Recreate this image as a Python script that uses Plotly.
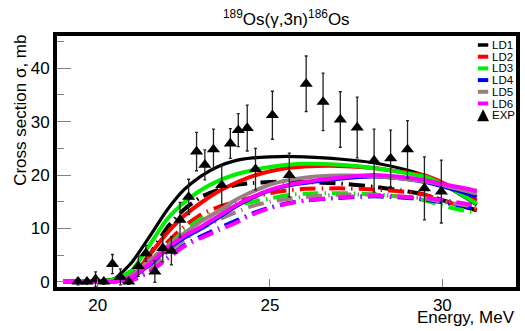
import plotly.graph_objects as go

# ---------------- data ----------------
E_GRID = [19, 19.5, 20, 20.5, 21, 21.5, 22, 22.5, 23, 23.5, 24, 24.5, 25, 25.5,
          26, 27, 28, 29, 29.5, 30, 30.5, 31]

LD1 = [0, 0, 0.1, 0.6, 3.7, 8.4, 13.3, 17.2, 19.8, 21.6, 22.7, 23.2, 23.4, 23.5,
       23.4, 23.0, 22.3, 20.9, 19.9, 18.3, 16.4, 14.4]
LD2 = [0, 0, 0, 0.1, 1.0, 5.0, 9.0, 12.3, 14.8, 16.9, 18.5, 19.8, 20.7, 21.3,
       21.6, 21.7, 21.3, 20.4, 19.9, 18.6, 17.0, 15.2]
LD3 = [0, 0, 0, 0.5, 2.2, 6.8, 11.6, 14.8, 17.2, 18.9, 20.1, 20.9, 21.5, 21.9,
       22.1, 21.9, 21.3, 20.3, 19.7, 18.3, 16.6, 14.6]
LD4 = [0, 0, 0, 0, 0.8, 3.2, 6.0, 8.2, 10.0, 12.0, 14.1, 15.8, 17.1, 18.0,
       18.5, 19.3, 19.7, 19.2, 18.7, 17.9, 17.0, 15.9]
LD5 = [0, 0, 0, 0, 1.3, 4.0, 6.5, 9.0, 11.3, 13.2, 15.3, 16.9, 18.2, 19.0,
       19.5, 19.9, 19.8, 19.2, 18.8, 18.1, 17.3, 16.5]
LD6 = [0, 0, 0, 0, 0.9, 3.3, 6.2, 8.5, 10.3, 12.3, 14.3, 15.9, 17.2, 18.1,
       18.7, 19.5, 20.0, 19.5, 19.0, 18.3, 17.7, 17.0]

LD1_ALT = [0, 0, 0, 0.3, 1.5, 5.0, 10.0, 13.5, 15.9, 17.2, 18.1, 18.5, 18.7, 18.8,
           18.7, 18.4, 17.8, 16.9, 16.3, 15.3, 14.3, 13.4]
LD2_ALT = [0, 0, 0, 0.1, 0.8, 3.5, 7.2, 10.3, 12.6, 14.0, 15.0, 15.8, 16.6, 17.1,
           17.4, 17.5, 17.3, 16.8, 16.3, 15.2, 14.3, 13.5]
LD3_ALT = [0, 0, 0, 0.1, 0.7, 3.2, 6.5, 9.5, 11.8, 13.3, 14.3, 15.0, 15.6, 16.2,
           16.5, 16.6, 16.4, 15.8, 15.2, 14.3, 13.5, 12.9]
LD4_ALT = [0, 0, 0, 0, 0.3, 1.9, 4.3, 6.8, 8.5, 10.0, 11.4, 12.8, 13.9, 14.7,
           15.2, 15.7, 16.0, 15.7, 15.4, 14.9, 14.3, 13.7]
LD5_ALT = [0, 0, 0, 0, 0.5, 2.5, 5.3, 7.8, 9.9, 11.6, 13.0, 14.2, 15.0, 15.5,
           15.9, 16.3, 16.3, 15.9, 15.6, 15.0, 14.5, 14.0]
LD6_ALT = [0, 0, 0, 0, 0.3, 1.8, 4.2, 6.6, 8.2, 9.6, 11.0, 12.6, 13.8, 14.6,
           15.2, 15.8, 16.1, 15.9, 15.7, 15.3, 14.8, 14.3]

EXP_E = [19.43, 19.69, 19.94, 20.18, 20.43, 20.66, 20.90, 21.18, 21.40, 21.66,
         21.89, 22.14, 22.39, 22.64, 22.87, 23.11, 23.36, 23.60, 23.85, 24.08,
         24.34, 24.58, 25.07, 25.56, 26.05, 26.54, 27.04, 27.53, 28.02, 28.50,
         28.99, 29.48, 29.97]
EXP_SIGMA = [0.0, 0.0, 0.45, 0.0, 3.3, 0.9, 0.0, 2.9, 5.3, 1.9,
             6.3, 5.8, 11.6, 15.9, 24.4, 21.9, 24.8, 18.1, 25.9, 28.4,
             28.8, 21.1, 31.2, 20.0, 37.1, 33.7, 30.4, 28.9, 22.7, 23.1,
             24.8, 17.5, 16.9]
EXP_ERR = [0.6, 0.5, 1.4, 0.5, 1.8, 1.5, 0.5, 1.9, 1.5, 2.0,
           2.6, 2.65, 3.25, 3.3, 3.6, 2.8, 3.8, 3.7, 2.8, 3.1,
           4.3, 3.9, 4.5, 4.1, 5.2, 5.4, 5.2, 5.7, 5.9, 5.3,
           5.4, 5.9, 5.9]

LABELS = ["LD1", "LD2", "LD3", "LD4", "LD5", "LD6"]
COLORS = ["#000000", "#ff0000", "#00ee00", "#0000ff", "#9a7e80", "#ff00ff"]
SOLID = [LD1, LD2, LD3, LD4, LD5, LD6]
ALT = [LD1_ALT, LD2_ALT, LD3_ALT, LD4_ALT, LD5_ALT, LD6_ALT]
X_TICKS = [20, 25, 30]
Y_TICKS = [0, 10, 20, 30, 40]

FONT = "Liberation Sans, Arial, Helvetica, sans-serif"

# ---------------- figure ----------------
fig = go.Figure()

for name, col, ys in zip(LABELS, COLORS, ALT):
    fig.add_trace(go.Scatter(
        x=E_GRID, y=ys, mode="lines", name=name + " alt", showlegend=False,
        line=dict(color=col, width=4, dash="16px,6px,1.5px,6px", shape="spline", smoothing=0.6),
        hoverinfo="skip"))

for name, col, ys in zip(LABELS, COLORS, SOLID):
    fig.add_trace(go.Scatter(
        x=E_GRID, y=ys, mode="lines", name=name, showlegend=False,
        line=dict(color=col, width=3.2 if name == "LD1" else 4, shape="spline", smoothing=0.6),
        hoverinfo="skip"))

fig.add_trace(go.Scatter(
    x=EXP_E, y=EXP_SIGMA, mode="markers", name="EXP", showlegend=False,
    marker=dict(symbol="triangle-up", size=11.5, color="black"),
    error_y=dict(type="data", array=EXP_ERR, visible=True, color="#222222",
                 thickness=1.3, width=1.5),
    hoverinfo="skip"))

L, R, T, B = 57, 5, 36, 44
W, H = 525, 331
PW, PH = W - L - R, H - T - B

def px_x(p):
    return (p - L) / PW

def px_y(p):
    return (H - B - p) / PH

shapes = []
annotations = []

# manual legend
row0, step = 45.0, 11.7
for i, (name, col) in enumerate(zip(LABELS, COLORS)):
    yc = row0 + i * step
    shapes.append(dict(type="line", xref="paper", yref="paper",
                       x0=px_x(481.5), x1=px_x(492), y0=px_y(yc), y1=px_y(yc),
                       line=dict(color=col, width=4 if i else 3.5)))
    annotations.append(dict(xref="paper", yref="paper", x=px_x(493.5), y=px_y(yc),
                            xanchor="left", yanchor="middle", text=name, showarrow=False,
                            font=dict(size=11.5, color="black", family=FONT)))
yc = row0 + 6 * step
tx, ty = px_x(486.8), px_y(yc)
dxp, dyp = 6.0 / PW, 6.0 / PH
shapes.append(dict(type="path", xref="paper", yref="paper",
                   path=f"M {tx - dxp} {ty - dyp} L {tx + dxp} {ty - dyp} L {tx} {ty + dyp} Z",
                   fillcolor="black", line=dict(color="black", width=0)))
annotations.append(dict(xref="paper", yref="paper", x=px_x(493.5), y=px_y(yc),
                        xanchor="left", yanchor="middle", text="EXP", showarrow=False,
                        font=dict(size=11.5, color="black", family=FONT)))

# titles
annotations.append(dict(xref="paper", yref="paper", x=px_x(288), y=px_y(18),
                        xanchor="center", yanchor="middle",
                        text="<sup>189</sup>Os(γ,3n)<sup>186</sup>Os", showarrow=False,
                        font=dict(size=17, color="black", family=FONT)))
annotations.append(dict(xref="paper", yref="paper", x=px_x(521), y=px_y(317.5),
                        xanchor="right", yanchor="middle", text="Energy, MeV",
                        showarrow=False, font=dict(size=17, color="black", family=FONT)))
annotations.append(dict(xref="paper", yref="paper", x=px_x(20), y=px_y(33),
                        xanchor="center", yanchor="top", textangle=-90,
                        text="Cross section σ, mb", showarrow=False,
                        font=dict(size=17, color="black", family=FONT)))

fig.update_layout(
    width=W, height=H,
    margin=dict(l=L, r=R, t=T, b=B, pad=0),
    paper_bgcolor="white", plot_bgcolor="white",
    showlegend=False, hovermode=False,
    shapes=shapes, annotations=annotations,
    font=dict(family=FONT, size=17, color="black"),
    xaxis=dict(range=[18.821, 32.137], tickvals=X_TICKS, ticktext=[str(v) for v in X_TICKS],
               ticks="inside", ticklen=8, tickwidth=1, tickcolor="#808080",
               showline=True, linewidth=4, linecolor="black", mirror=True,
               showgrid=False, zeroline=False,
               tickfont=dict(size=17, family=FONT, color="black")),
    yaxis=dict(range=[-0.99, 46.05], tickvals=Y_TICKS, ticktext=[str(v) for v in Y_TICKS],
               ticks="inside", ticklen=14, tickwidth=1, tickcolor="#808080",
               minor=dict(ticks="inside", ticklen=7, dtick=5, tick0=0, tickcolor="#808080", tickwidth=1),
               showline=True, linewidth=4, linecolor="black", mirror=True,
               showgrid=False, zeroline=False,
               tickfont=dict(size=17, family=FONT, color="black")),
)

fig.write_html("out.html",
               config=dict(displayModeBar=False, staticPlot=True),
               post_script="document.body.style.margin='0';document.body.style.padding='0';"
                           "document.body.style.overflow='hidden';")
